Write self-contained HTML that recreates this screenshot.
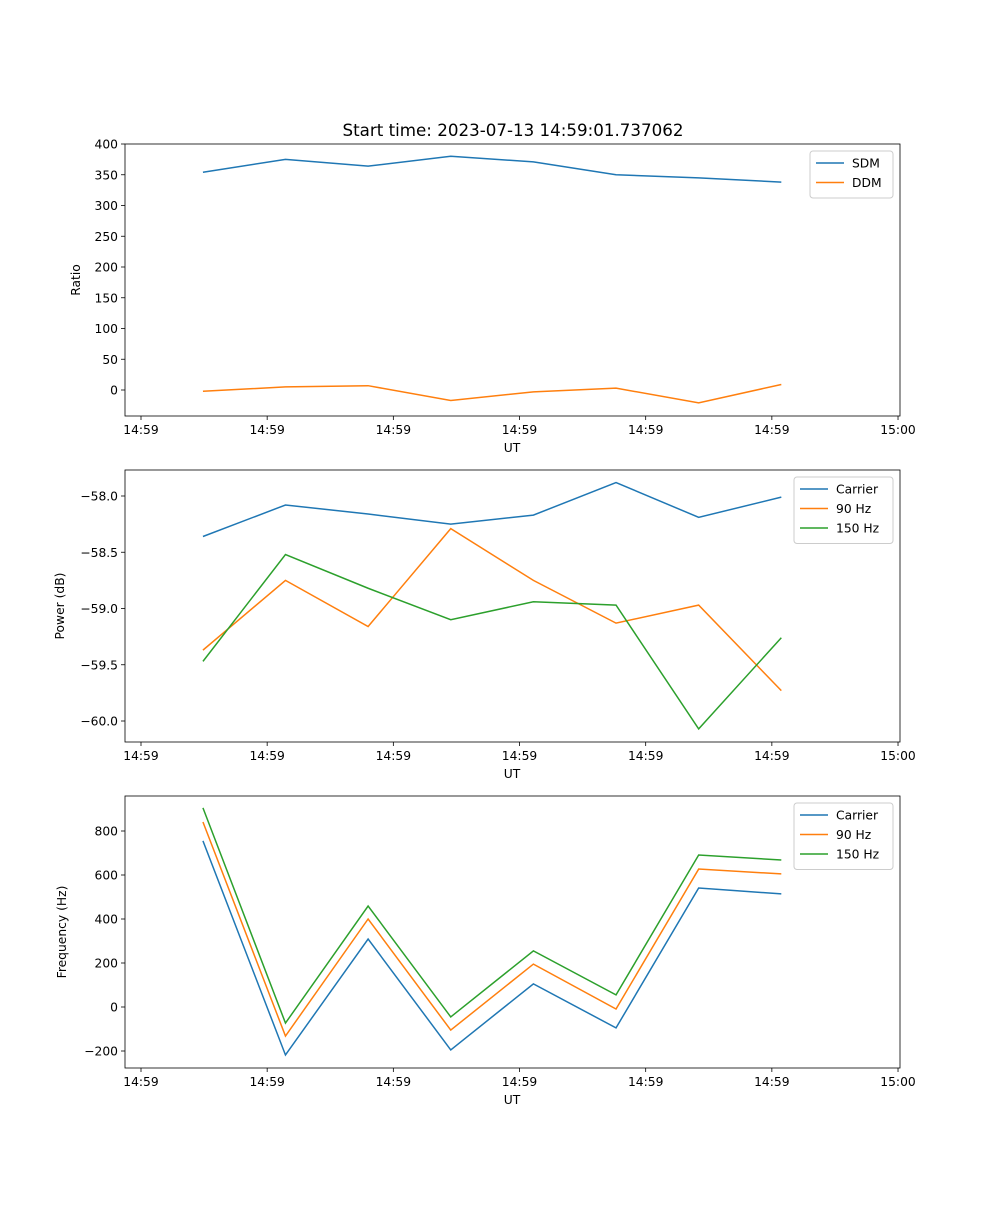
<!DOCTYPE html>
<html><head><meta charset="utf-8"><style>body{margin:0;background:#fff}svg{font-family:"DejaVu Sans","Liberation Sans",sans-serif}</style></head>
<body>
<svg id="c" width="1000" height="1200" xmlns="http://www.w3.org/2000/svg">
<text x="513" y="136" font-size="16.7" text-anchor="middle">Start time: 2023-07-13 14:59:01.737062</text>
</svg>
<script>
const times = [4.91, 11.45, 18.0, 24.55, 31.1, 37.65, 44.2, 50.75];
const xTickVals = [0, 10, 20, 30, 40, 50, 60];
const xTickLabels = ["14:59","14:59","14:59","14:59","14:59","14:59","15:00"];
const sdm = [354, 375, 364, 380, 371, 350, 345, 338];
const ddm = [-2, 5, 7, -17, -3, 3, -21, 9];
const carrierPow = [-58.36, -58.08, -58.16, -58.25, -58.17, -57.88, -58.19, -58.01];
const hz90Pow = [-59.37, -58.75, -59.16, -58.29, -58.75, -59.13, -58.97, -59.73];
const hz150Pow = [-59.47, -58.52, -58.82, -59.10, -58.94, -58.97, -60.07, -59.26];
const carrierFreq = [755, -218, 309, -195, 105, -95, 541, 514];
const hz90Freq = [841, -132, 400, -105, 195, -9, 627, 605];
const hz150Freq = [905, -73, 459, -45, 255, 55, 691, 668];
const ticks1 = [0,50,100,150,200,250,300,350,400];
const ticks2 = [-60.0,-59.5,-59.0,-58.5,-58.0];
const ticks3 = [-200,0,200,400,600,800];
const C = ["#1f77b4","#ff7f0e","#2ca02c"];
const svg = document.getElementById('c');
const NS = "http://www.w3.org/2000/svg";
function mk(tag, attrs, parent){const e=document.createElementNS(NS,tag);for(const k in attrs)e.setAttribute(k,attrs[k]);(parent||svg).appendChild(e);return e;}
const xs = t => 141 + t*12.617;
function panel(top, y0v, y0p, y1v, y1p, ticks, fmt, ylabel, series, names, legW, name){
  const g = mk('g',{});
  
  
  const ys = v => y0p + (v-y0v)*(y1p-y0p)/(y1v-y0v);
  const bottom = top+272;
  xTickVals.forEach((v,i)=>{
    const x=xs(v);
    mk('line',{x1:x,x2:x,y1:bottom,y2:bottom+4,stroke:'#000','stroke-width':0.8},g);
    const t=mk('text',{x:x,y:bottom+18,'font-size':12.3,'text-anchor':'middle'},g);t.textContent=xTickLabels[i];
    
    
  });
  const xl=mk('text',{x:512,y:bottom+36,'font-size':12.3,'text-anchor':'middle'},g);xl.textContent='UT';
  
  
  ticks.forEach(v=>{
    const y=ys(v);
    mk('line',{x1:121,x2:125,y1:y,y2:y,stroke:'#000','stroke-width':0.8},g);
    const t=mk('text',{x:118,y:y+4.5,'font-size':12.3,'text-anchor':'end'},g);t.textContent=fmt(v);
    
    
  });
  const yl=mk('text',{x:0,y:0,'font-size':12.3,'text-anchor':'middle',transform:`translate(${ylabel[1]},${top+136}) rotate(-90)`},g);yl.textContent=ylabel[0];
  
  
  series.forEach((s,i)=>{
    const p=mk('polyline',{points:s.map((v,j)=>xs(times[j])+','+ys(v)).join(' '),fill:'none',stroke:C[i],'stroke-width':1.5},g);
    
    
  });
  mk('rect',{x:125,y:top,width:775,height:272,fill:'none',stroke:'#000','stroke-width':0.8},g);
  const lx=893-legW, lh=8+names.length*19.5;
  const lg=mk('g',{},g);
  
  
  mk('rect',{x:lx,y:top+7,width:legW,height:lh,rx:3,fill:'#fff',stroke:'#ccc','stroke-width':1},lg);
  names.forEach((n,i)=>{
    const y=top+19+i*19.5;
    mk('line',{x1:lx+6,x2:lx+34,y1:y,y2:y,stroke:C[i],'stroke-width':1.5},lg);
    const t=mk('text',{x:lx+42,y:y+4.5,'font-size':12.3},lg);t.textContent=n;
    
    
  });
}
panel(144, 0, 390, 400, 144, ticks1, v=>String(v), ['Ratio',80], [sdm,ddm], ['SDM','DDM'], 83, 'ratio-panel');
panel(470, -58, 496, -60, 721, ticks2, v=>'\u2212'+Math.abs(v).toFixed(1), ['Power (dB)',64], [carrierPow,hz90Pow,hz150Pow], ['Carrier','90 Hz','150 Hz'], 99, 'power-panel');
panel(796, 0, 1007, 800, 831, ticks3, v=>v<0?'\u2212'+Math.abs(v):String(v), ['Frequency (Hz)',66], [carrierFreq,hz90Freq,hz150Freq], ['Carrier','90 Hz','150 Hz'], 99, 'frequency-panel');
</script>
</body></html>
